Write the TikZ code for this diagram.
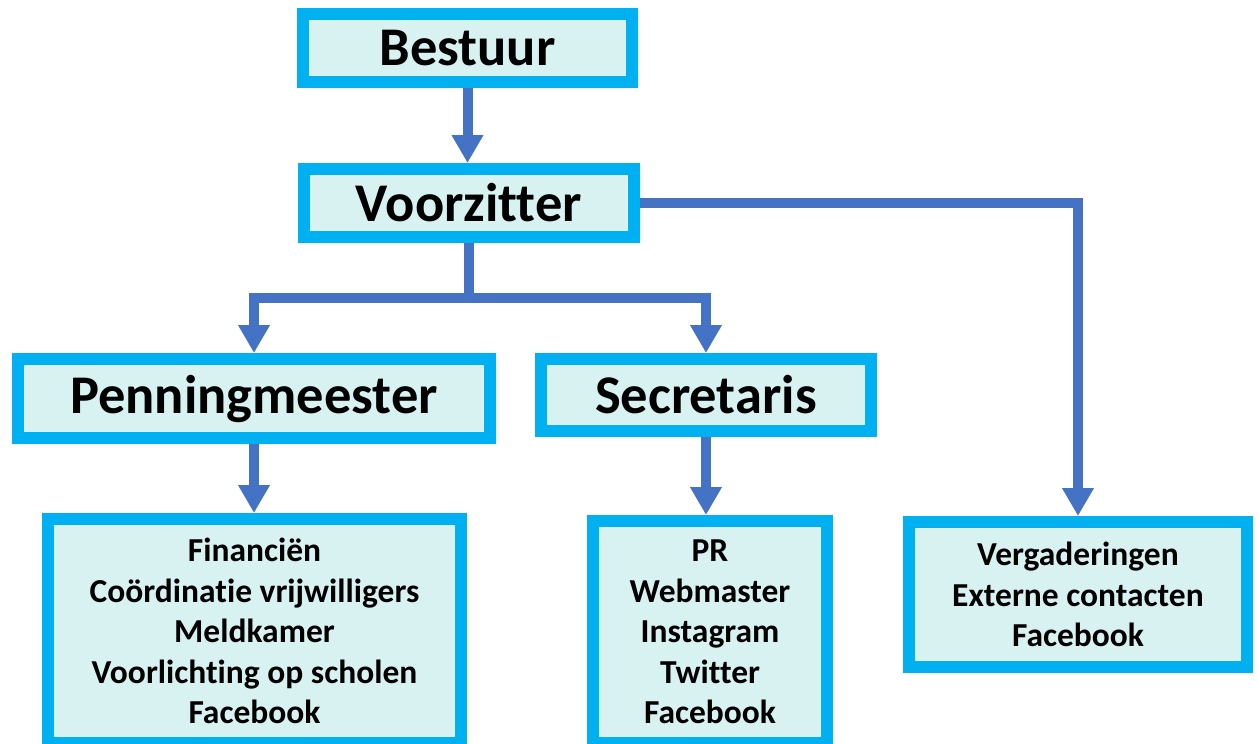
\documentclass[tikz,border=0pt]{standalone}
\usepackage{fontspec}
\setmainfont{Carlito}[Ligatures=NoCommon]
\usetikzlibrary{arrows.meta,shadows.blur}
\definecolor{rand}{HTML}{00B0F0}
\definecolor{vulling}{HTML}{D8F1F1}
\definecolor{pijlblauw}{HTML}{4472C4}
\tikzset{
	functie/.style={draw=rand, line width=12pt, fill=vulling, inner sep=0pt, align=center,
		font=\bfseries\fontsize{54.5}{60}\selectfont,
		blur shadow={shadow xshift=5pt, shadow yshift=-5pt, shadow blur steps=6, shadow opacity=45}},
	taken/.style={functie, font=\bfseries\fontsize{33.5}{40.5}\selectfont},
	lijn/.style={draw=pijlblauw, line width=10pt},
	pijl/.style={lijn, -{Triangle[width=30pt,length=28pt]}}
}
\begin{document}
\begin{tikzpicture}[x=1pt,y=-1pt]
		\useasboundingbox (0,0) rectangle (1259,744);
		\node[functie, minimum width=329pt, minimum height=68pt] (bestuur) at (467.5,48) {Bestuur};
		\node[functie, minimum width=330pt, minimum height=68pt] (voorz) at (469,203) {Voorzitter};
		\node[functie, minimum width=472pt, minimum height=79pt] (penning) at (254,398.5) {Penningmeester};
		\node[functie, minimum width=330pt, minimum height=72pt] (secr) at (706,395) {Secretaris};
		\node[taken, minimum width=413pt, minimum height=224pt] (takenP) at (254.5,631) {Financiën\\Coördinatie vrijwilligers\\Meldkamer\\Voorlichting op scholen\\Facebook};
		\node[taken, minimum width=234pt, minimum height=222pt] (takenS) at (710,632) {PR\\Webmaster\\Instagram\\Twitter\\Facebook};
		\node[taken, minimum width=338pt, minimum height=145pt] (takenV) at (1078,594.5) {Vergaderingen\\Externe contacten\\Facebook};
		\coordinate (tak) at (voorz.south |- 0,298);
		\draw[pijl] (bestuur.south) -- (bestuur.south |- voorz.north);
		\draw[pijl] (voorz.east) -| (takenV.north);
		\draw[lijn] (voorz.south) -- (tak);
		\draw[pijl] (tak) -| (penning.north);
		\draw[pijl] (tak) -| (secr.north);
		\draw[pijl] (penning.south) -- (penning.south |- takenP.north);
		\draw[pijl] (secr.south) -- (secr.south |- takenS.north);
		\end{tikzpicture}
\end{document}
